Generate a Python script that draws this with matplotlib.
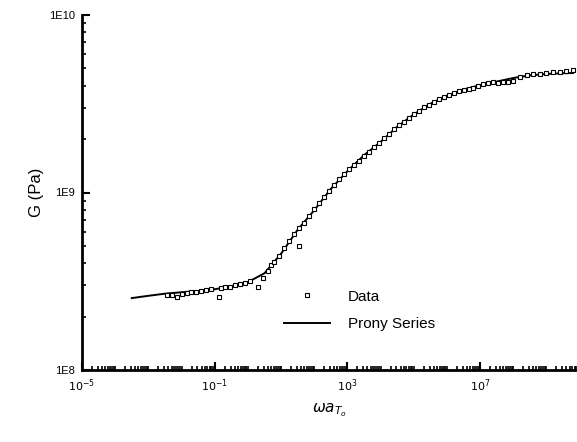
import matplotlib
matplotlib.use("Agg")
import matplotlib.pyplot as plt
import numpy as np
from matplotlib.ticker import LogLocator, FixedLocator, FixedFormatter, NullFormatter

plt.rcParams['font.family'] = ['Liberation Sans', 'DejaVu Sans']

# Data (log10 of reduced frequency, log10 of G in Pa)
data_logx = [-2.45, -2.3, -2.13, -2.0, -1.85, -1.7, -1.55, -1.4, -1.25, -1.1, -0.88,
             -0.8, -0.7, -0.55, -0.4, -0.25, -0.1, 0.05, 0.3, 0.45, 0.6, 0.7, 0.8,
             0.95, 1.1, 1.25, 1.4, 1.53, 1.55, 1.7, 1.85, 2.0, 2.15, 2.3, 2.45, 2.6,
             2.75, 2.9, 3.05, 3.2, 3.35, 3.5, 3.65, 3.8, 3.95, 4.1, 4.25, 4.4, 4.55,
             4.7, 4.85, 5.0, 5.15, 5.3, 5.45, 5.6, 5.75, 5.9, 6.05, 6.2, 6.35, 6.5,
             6.65, 6.8, 6.95, 7.1, 7.25, 7.4, 7.55, 7.7, 7.85, 8.0, 8.2, 8.4, 8.6,
             8.8, 9.0, 9.2, 9.4, 9.6, 9.8]
data_logG = [8.42, 8.425, 8.41, 8.43, 8.435, 8.44, 8.44, 8.445, 8.45, 8.455, 8.41,
             8.46, 8.465, 8.47, 8.48, 8.485, 8.49, 8.50, 8.47, 8.52, 8.56, 8.59, 8.61,
             8.645, 8.69, 8.725, 8.765, 8.70, 8.80, 8.83, 8.87, 8.905, 8.94, 8.975, 9.01, 9.045,
             9.075, 9.105, 9.13, 9.155, 9.18, 9.205, 9.23, 9.255, 9.28, 9.305, 9.33, 9.355, 9.38,
             9.40, 9.42, 9.44, 9.46, 9.48, 9.495, 9.51, 9.525, 9.54, 9.55, 9.56, 9.57, 9.58,
             9.585, 9.59, 9.60, 9.61, 9.615, 9.62, 9.615, 9.62, 9.625, 9.63, 9.65, 9.66, 9.665,
             9.67, 9.675, 9.68, 9.68, 9.685, 9.69]

# Prony series fit
prony_logx = [-3.5, -3.0, -2.5, -2.0, -1.5, -1.0, -0.5, 0.0, 0.5, 1.0, 1.5, 2.0, 2.5,
              3.0, 3.5, 4.0, 4.5, 5.0, 5.5, 6.0, 6.5, 7.0, 7.5, 8.0, 8.5, 9.0, 9.5, 9.8]
prony_logG = [8.405, 8.418, 8.43, 8.438, 8.445, 8.455, 8.472, 8.495, 8.545, 8.655, 8.79,
              8.90, 9.02, 9.12, 9.21, 9.285, 9.37, 9.44, 9.50, 9.545, 9.58, 9.605, 9.625,
              9.645, 9.66, 9.668, 9.672, 9.673]

xtick_vals = [1e-5, 1e-1, 1e3, 1e7]
xtick_labels = [r'$10^{-5}$', r'$10^{-1}$', r'$10^{3}$', r'$10^{7}$']
ytick_vals = [1e8, 1e9, 1e10]
ytick_labels = ['1E8', '1E9', '1E10']

fig = plt.figure(figsize=(5.77, 4.42), dpi=100)
ax = fig.add_axes([82/577, 1-370/442, 495/577, 355/442])

ax.plot(10**np.array(prony_logx), 10**np.array(prony_logG), color='black', lw=1.4,
        label='Prony Series', zorder=2)
ax.plot(10**np.array(data_logx), 10**np.array(data_logG), linestyle='none', marker='s',
        markersize=3.2, markerfacecolor='white', markeredgecolor='black',
        markeredgewidth=0.8, label='Data', zorder=3)

ax.set_xscale('log')
ax.set_yscale('log')
ax.set_xlim(1e-5, 10**9.92)
ax.set_ylim(1e8, 1e10)

for s in ['top', 'right']:
    ax.spines[s].set_visible(False)
for s in ['left', 'bottom']:
    ax.spines[s].set_linewidth(2.0)

ax.xaxis.set_major_locator(FixedLocator(xtick_vals))
ax.xaxis.set_major_formatter(FixedFormatter(xtick_labels))
ax.xaxis.set_minor_locator(LogLocator(base=10, subs=np.arange(1, 10), numticks=100))
ax.xaxis.set_minor_formatter(NullFormatter())
ax.yaxis.set_major_locator(FixedLocator(ytick_vals))
ax.yaxis.set_major_formatter(FixedFormatter(ytick_labels))
ax.yaxis.set_minor_locator(LogLocator(base=10, subs=np.arange(2, 10), numticks=100))
ax.yaxis.set_minor_formatter(NullFormatter())

ax.tick_params(which='major', direction='in', length=6, width=1.5, labelsize=8, pad=5)
ax.tick_params(which='minor', direction='in', length=3, width=1.2)

ax.set_ylabel('G (Pa)', fontsize=12, labelpad=4)
ax.set_xlabel(r'$\omega a_{T_o}$', fontsize=11, labelpad=6)

h, l = ax.get_legend_handles_labels()
ax.legend([h[1], h[0]], [l[1], l[0]], loc='upper left', bbox_to_anchor=(0.38, 0.265),
          frameon=False, fontsize=11, handlelength=3.0, handletextpad=1.2,
          labelspacing=0.9)

fig.savefig('out.png', dpi=100)
